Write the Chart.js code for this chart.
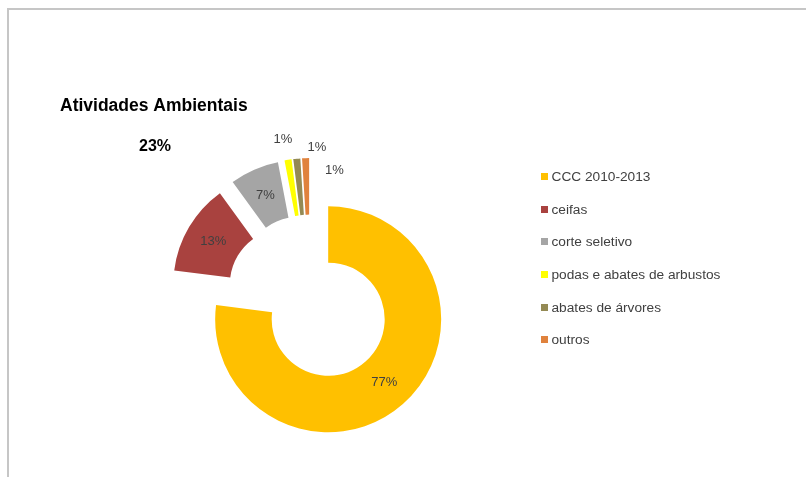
<!DOCTYPE html>
<html lang="pt">
<head>
<meta charset="utf-8">
<title>Atividades Ambientais</title>
<script src="https://cdn.jsdelivr.net/npm/chart.js@4/dist/chart.umd.min.js"></script>
<style>
  html, body { margin: 0; padding: 0; background: #fff; }
  #wrap { position: relative; width: 806px; height: 477px; overflow: hidden; }
  #frame {
    position: absolute; left: 7px; top: 8px; right: -4px; bottom: -4px;
    border-top: 2px solid #c6c6c6; border-left: 2px solid #c6c6c6;
    pointer-events: none;
  }
  #chart { position: absolute; left: 0; top: 0; }
  #legend {
    position: absolute; left: 541px; top: 160px; margin: 0; padding: 0;
    list-style: none; font: 13.7px "Liberation Sans", Arial, sans-serif; color: #404040;
  }
  #legend li { height: 32.7px; display: flex; align-items: center; white-space: nowrap; }
  #legend .box { width: 7px; height: 7px; margin-right: 3.5px; flex: none; }
</style>
</head>
<body>
<div id="wrap">
  <canvas id="chart" width="806" height="477"></canvas>
  <ul id="legend"></ul>
  <div id="frame"></div>
</div>
<script>
  "use strict";

  // data
  const categories = [
    "CCC 2010-2013",
    "ceifas",
    "corte seletivo",
    "podas e abates de arbustos",
    "abates de árvores",
    "outros",
  ];
  const shares = [77, 13, 7, 1, 1, 1];
  const sliceColors = ["#FFC000", "#A9423F", "#A5A5A5", "#FFFF00", "#948A54", "#E0823D"];

  const FONT = '"Liberation Sans", Arial, sans-serif';

  // pulls every slice out along its own mid angle (Excel style explosion)
  const explodePlugin = {
    id: "explode",
    afterDatasetsUpdate(chart, args, opts) {
      chart.getDatasetMeta(0).data.forEach((arc) => {
        const mid = (arc.startAngle + arc.endAngle) / 2;
        arc.x += Math.cos(mid) * opts.distance;
        arc.y += Math.sin(mid) * opts.distance;
      });
    },
  };

  // percentage labels, inside the big slices and outside the thin ones
  const sliceLabelPlugin = {
    id: "sliceLabels",
    afterDatasetsDraw(chart, args, opts) {
      const ctx = chart.ctx;
      const values = chart.data.datasets[0].data;
      ctx.save();
      ctx.textAlign = "center";
      ctx.textBaseline = "middle";
      ctx.font = opts.font;
      ctx.fillStyle = opts.color;
      chart.getDatasetMeta(0).data.forEach((arc, i) => {
        let pos;
        if (values[i] >= opts.insideMin) {
          pos = arc.getCenterPoint();
        } else {
          const mid = (arc.startAngle + arc.endAngle) / 2;
          const r = arc.outerRadius + opts.outsideGap;
          pos = { x: arc.x + Math.cos(mid) * r, y: arc.y + Math.sin(mid) * r };
        }
        const nudge = opts.nudge[i] || [0, 0];
        ctx.fillText(values[i] + "%", pos.x + nudge[0], pos.y + nudge[1]);
      });

      // combined share of the exploded minor activities
      const rest = values.slice(1).reduce((a, b) => a + b, 0);
      ctx.font = opts.totalFont;
      ctx.fillStyle = "#000";
      ctx.fillText(rest + "%", opts.totalPos[0], opts.totalPos[1]);
      ctx.restore();
    },
  };

  const chart = new Chart(document.getElementById("chart"), {
    type: "doughnut",
    data: {
      labels: categories,
      datasets: [
        {
          data: shares,
          backgroundColor: sliceColors,
          borderWidth: 0,
        },
      ],
    },
    options: {
      responsive: false,
      animation: false,
      cutout: "50%",
      layout: {
        padding: { left: 60, right: 246, top: 0, bottom: 65.4 },
      },
      plugins: {
        legend: { display: false },
        tooltip: { enabled: false },
        title: {
          display: true,
          text: "Atividades Ambientais",
          align: "start",
          color: "#000",
          font: { family: FONT, size: 17.5, weight: "bold" },
          padding: { top: 96, bottom: 68.6 },
        },
        explode: { distance: 27.5 },
        sliceLabels: {
          font: "13px " + FONT,
          color: "#404040",
          insideMin: 5,
          outsideGap: 20.5,
          nudge: [null, null, null, [-2, 0], [22, 9], [29.5, 33]],
          totalFont: "bold 16px " + FONT,
          totalPos: [155, 147],
        },
      },
    },
    plugins: [explodePlugin, sliceLabelPlugin],
  });

  // html legend built from the chart's own data
  const legendEl = document.getElementById("legend");
  chart.data.labels.forEach((label, i) => {
    const li = document.createElement("li");
    const box = document.createElement("span");
    box.className = "box";
    box.style.background = chart.data.datasets[0].backgroundColor[i];
    const text = document.createElement("span");
    text.textContent = label;
    li.appendChild(box);
    li.appendChild(text);
    legendEl.appendChild(li);
  });
</script>
</body>
</html>
